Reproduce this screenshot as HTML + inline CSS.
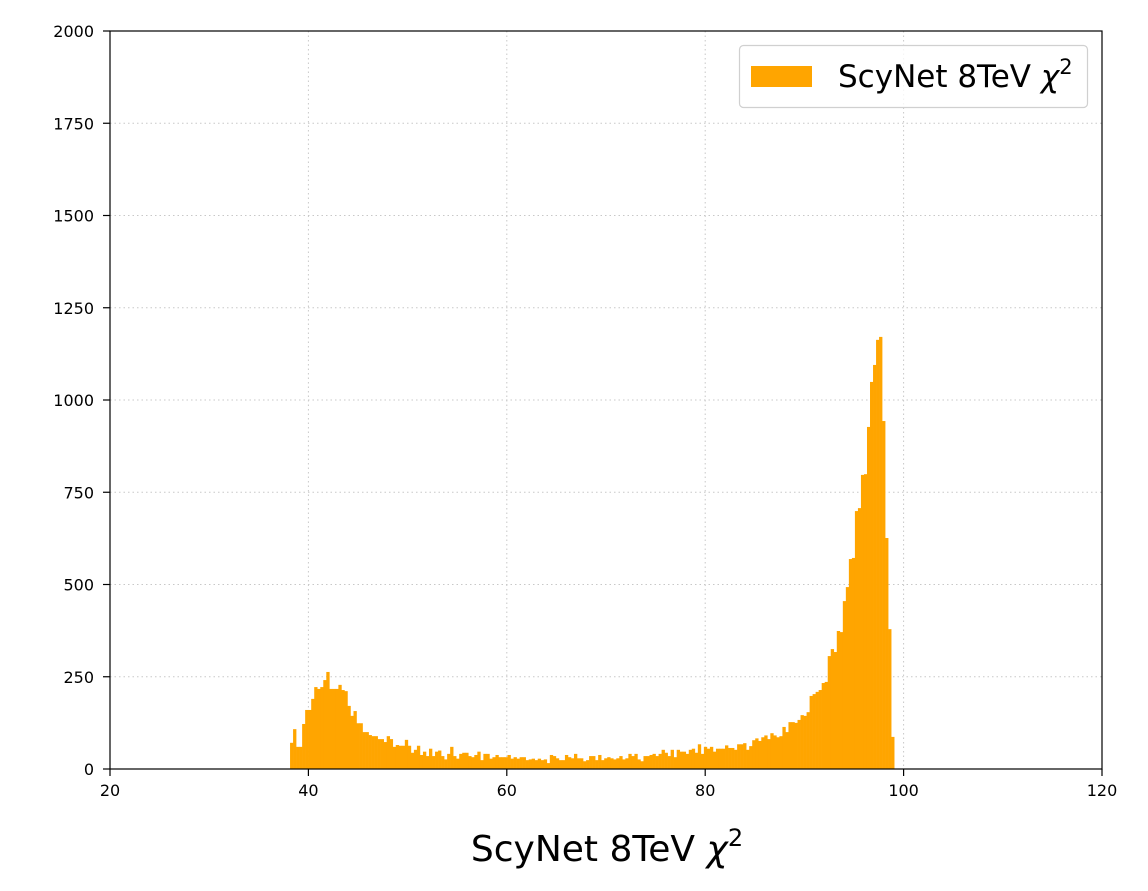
<!DOCTYPE html>
<html><head><meta charset="utf-8"><style>
html,body{margin:0;padding:0;background:#fff;}
svg{display:block;font-family:"DejaVu Sans","Liberation Sans",sans-serif;}
</style></head><body>
<svg id="chart" width="1148" height="891" viewBox="0 0 1148 891">
<g id="grid"></g>
<g id="bars"></g>
<rect x="110" y="31" width="992" height="738" fill="none" stroke="#000" stroke-width="1.2"/>
<g id="xticks"></g>
<g id="yticks"></g>
<text x="607" y="861" text-anchor="middle" font-size="36">ScyNet 8TeV <tspan font-style="italic">χ</tspan><tspan font-size="24" dy="-15">2</tspan></text>
<g>
<rect x="739.5" y="45.5" width="348" height="62" rx="4" fill="#fff" fill-opacity="0.8" stroke="#d0d0d0" stroke-width="1.2"/>
<rect x="751" y="66" width="61" height="21" fill="#FFA500"/>
<text x="838" y="87" font-size="31">ScyNet 8TeV <tspan font-style="italic">χ</tspan><tspan font-size="21" dy="-13">2</tspan></text>
</g>
</svg>
<script>
const xTicks=[20,40,60,80,100,120];
const yTicks=[0,250,500,750,1000,1250,1500,1750,2000];
const binStart=38.15, binEnd=99.05;
const counts=[71,108,60,60,122,160,160,190,222,217,222,241,263,217,217,217,228,214,211,171,144,157,124,124,100,100,92,89,89,81,81,73,89,81,60,65,63,63,79,63,44,52,63,38,47,35,55,35,47,50,35,26,41,60,35,28,41,44,44,35,32,38,47,24,41,41,28,32,38,32,32,32,38,28,32,28,32,32,24,26,28,24,28,
24,26,16,38,35,29,24,24,38,32,29,41,29,29,21,24,35,35,24,38,24,29,32,29,26,29,35,26,29,41,35,41,26,21,35,35,38,41,35,41,52,44,35,52,32,52,47,47,41,52,55,44,67,41,60,55,60,47,55,55,55,64,57,57,52,67,67,70,52,62,78,83,76,86,91,81,97,91,86,89,114,100,127,
127,125,133,146,144,154,198,203,209,214,233,236,306,325,317,374,371,455,493,569,572,699,707,797,799,927,1049,1095,1163,1171,943,626,379,87];
const X=v=>110+(v-20)/100*992;
const Y=v=>769-v/2000*738;
const NS='http://www.w3.org/2000/svg';
const mk=(t,a,p)=>{const e=document.createElementNS(NS,t);for(const k in a)e.setAttribute(k,a[k]);p.appendChild(e);return e;};
const grid=document.getElementById('grid'),bars=document.getElementById('bars'),xt=document.getElementById('xticks'),yt=document.getElementById('yticks');
xTicks.forEach(v=>{
  const g=mk('line',{x1:X(v),x2:X(v),y1:31,y2:769,stroke:'#c8c8c8','stroke-width':1,'stroke-dasharray':'1.5,3'},grid);
  
  
  const t=mk('line',{x1:X(v),x2:X(v),y1:769,y2:776,stroke:'#000','stroke-width':1.2},xt);
  
  
  const l=mk('text',{x:X(v),y:796,'text-anchor':'middle','font-size':16},xt);
  l.textContent=v;
  
  
});
yTicks.forEach(v=>{
  const g=mk('line',{x1:110,x2:1102,y1:Y(v),y2:Y(v),stroke:'#c8c8c8','stroke-width':1,'stroke-dasharray':'1.5,3'},grid);
  
  
  const t=mk('line',{x1:103,x2:110,y1:Y(v),y2:Y(v),stroke:'#000','stroke-width':1.2},yt);
  
  
  const l=mk('text',{x:94,y:Y(v)+6,'text-anchor':'end','font-size':16},yt);
  l.textContent=v;
  
  
});
const w=(binEnd-binStart)/counts.length;
counts.forEach((c,i)=>{
  const x0=X(binStart+i*w),x1=X(binStart+(i+1)*w);
  const r=mk('rect',{x:x0,y:Y(c),width:x1-x0+0.3,height:Y(0)-Y(c),fill:'#FFA500'},bars);
  
  
});
</script>
</body></html>
